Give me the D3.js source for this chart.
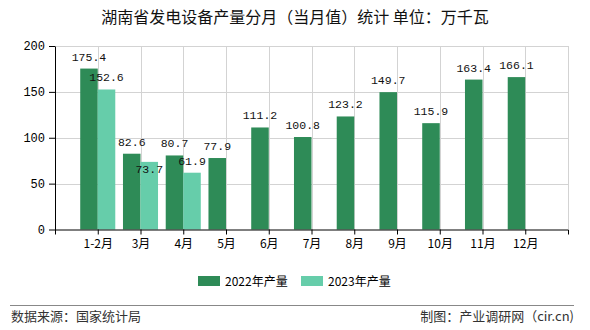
<!DOCTYPE html>
<html><head><meta charset="utf-8">
<script src="https://cdn.jsdelivr.net/npm/d3@7/dist/d3.min.js"></script>
<style>
body{margin:0;background:#fff;}
svg{display:block;}
</style></head>
<body><svg id="c" width="590" height="330"></svg>
<script>
const categories = ["1-2月","3月","4月","5月","6月","7月","8月","9月","10月","11月","12月"];
const values2022 = [175.4,82.6,80.7,77.9,111.2,100.8,123.2,149.7,115.9,163.4,166.1];
const values2023 = [152.6,73.7,61.9,null,null,null,null,null,null,null,null];
const seriesNames = ["2022年产量","2023年产量"];
const yTicks = [0,50,100,150,200];
const titleText = "湖南省发电设备产量分月（当月值）统计 单位：万千瓦";
const sourceText = "数据来源：国家统计局";
const makerText = "制图：产业调研网（cir.cn)";

const svg = d3.select("#c");
const L = 55, R = 568, T = 46, B = 229.5;
const colors = ["#2e8b57","#66cdaa"];
const cjk = "'Noto Sans CJK SC','Noto Sans',sans-serif";
const numFont = "'Liberation Mono','DejaVu Sans Mono',monospace";

const x = d3.scalePoint().domain(categories).range([L, R]).padding(1);
const y = d3.scaleLinear().domain([0,200]).range([B, T]);
const barW = x.step()*0.41;

// grid
const grid = svg.append("g").attr("stroke","#d3d3d3").attr("stroke-width",1);
yTicks.filter(v=>v>0).forEach(v=>{
  grid.append("line").attr("x1",L).attr("x2",R).attr("y1",Math.round(y(v))+0.5).attr("y2",Math.round(y(v))+0.5);
});
categories.forEach(c=>{
  grid.append("line").attr("x1",Math.round(x(c))+0.5).attr("x2",Math.round(x(c))+0.5).attr("y1",T).attr("y2",B);
});
grid.append("line").attr("x1",R+0.5).attr("x2",R+0.5).attr("y1",T).attr("y2",B);

// bars
const g = svg.append("g");
g.selectAll("rect.s0").data(categories).enter().append("rect")
  .attr("x",c=>x(c)-barW).attr("width",barW)
  .attr("y",(c,i)=>y(values2022[i])).attr("height",(c,i)=>y(0)-y(values2022[i]))
  .attr("fill",colors[0]);
g.selectAll("rect.s1").data(categories.filter((c,i)=>values2023[i]!=null)).enter().append("rect")
  .attr("x",c=>x(c)).attr("width",barW)
  .attr("y",c=>y(values2023[categories.indexOf(c)]))
  .attr("height",c=>y(0)-y(values2023[categories.indexOf(c)]))
  .attr("fill",colors[1]);

// labels
const lab = svg.append("g").attr("font-family",numFont).attr("font-size",11.5).attr("fill","#111").attr("text-anchor","middle");
categories.forEach((c,i)=>{
  const v0 = values2022[i];
  const y0 = y(v0)-8;
  lab.append("text").attr("x",x(c)-barW/2).attr("y",y0).text(v0.toFixed(1));
  const v1 = values2023[i];
  if(v1!=null){
    let y1 = y(v1)-8;
    const lw = v0.toFixed(1).length*6.6;
    const hOverlap = (x(c)+barW/2 - lw/2) < (x(c)-barW/2 + lw/2);
    if(hOverlap && Math.abs(y1-y0) < 12) y1 = y(v1)+11;
    lab.append("text").attr("x",x(c)+barW/2).attr("y",y1).text(v1.toFixed(1));
  }
});

// axes
const xa = svg.append("g").attr("transform",`translate(0,${B})`)
  .call(d3.axisBottom(x).tickSize(5).tickSizeOuter(5));
xa.selectAll("path,line").attr("stroke","#000");
xa.selectAll("text").attr("font-family",cjk).attr("font-size",12).attr("fill","#000").attr("dy","0.9em");
const ya = svg.append("g").attr("transform",`translate(${L},0)`)
  .call(d3.axisLeft(y).tickValues(yTicks).tickSize(6).tickSizeOuter(0));
ya.selectAll("path,line").attr("stroke","#000");
ya.selectAll("text").attr("font-family",numFont).attr("font-size",12).attr("fill","#000").attr("dx","-1");

// title
svg.append("text").attr("x",295).attr("y",23).attr("text-anchor","middle")
  .attr("font-family",cjk).attr("font-size",16).attr("fill","#111").text(titleText);

// legend
const lg = svg.append("g");
const legX = [198, 301];
seriesNames.forEach((n,i)=>{
  lg.append("rect").attr("x",legX[i]).attr("y",276).attr("width",22).attr("height",10).attr("fill",colors[i]);
  lg.append("text").attr("x",legX[i]+27).attr("y",285.5).attr("font-family",cjk).attr("font-size",12)
    .attr("fill","#000").text(n);
});

// footer
svg.append("line").attr("x1",10).attr("x2",574).attr("y1",305.5).attr("y2",305.5).attr("stroke","#888");
svg.append("text").attr("x",11).attr("y",321).attr("font-family",cjk).attr("font-size",13).attr("fill","#333").text(sourceText);
svg.append("text").attr("x",574).attr("y",321).attr("text-anchor","end").attr("font-family",cjk).attr("font-size",13).attr("fill","#333").text(makerText);
</script></body></html>
